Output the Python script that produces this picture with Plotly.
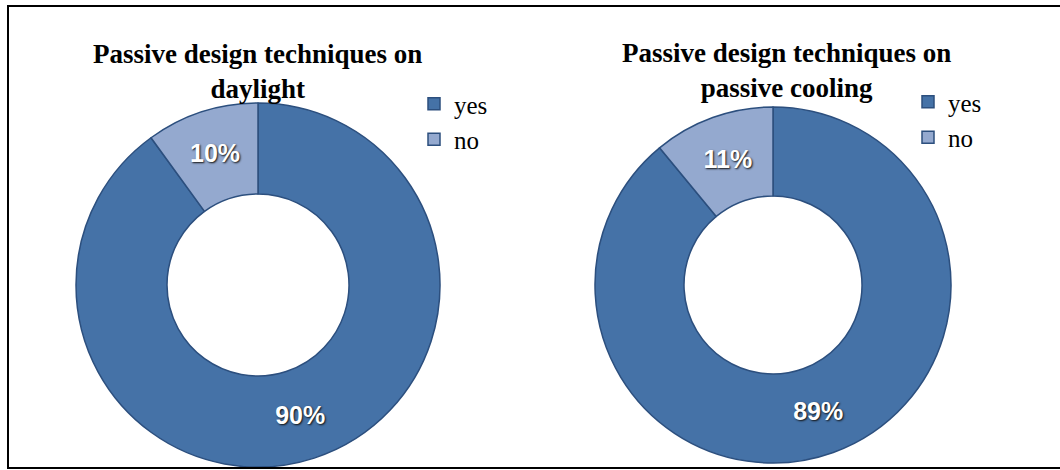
import plotly.graph_objects as go

labels = ["yes", "no"]
labels_cooling = ["yes\u200b", "no\u200b"]
daylight_values = [90, 10]
cooling_values = [89, 11]
titles = ["Passive design techniques on<br>daylight", "Passive design techniques on<br>passive cooling"]

W, H = 1060, 470
def px(x):
    return x / W
def py(y):
    return (H - y) / H

colors = ["#4572A7", "#94A9CF"]
line = dict(color="#2C4F7E", width=1.5)
tfont = dict(family="Liberation Sans", size=25, color="white", weight="bold",
             shadow="1px 1px 2px #111")

fig = go.Figure()
fig.add_trace(go.Pie(
    labels=labels, values=daylight_values, hole=0.5, sort=False,
    direction="clockwise", rotation=0,
    marker=dict(colors=colors, line=line),
    texttemplate="%{value}%", textposition="inside",
    insidetextorientation="horizontal", textfont=tfont,
    domain=dict(x=[px(76), px(440)], y=[py(467), py(103)]),
    legend="legend", hoverinfo="label+percent",
))
fig.add_trace(go.Pie(
    labels=labels_cooling, values=cooling_values, hole=0.5, sort=False,
    direction="clockwise", rotation=0,
    marker=dict(colors=colors, line=line),
    texttemplate="%{value}%", textposition="inside",
    insidetextorientation="horizontal", textfont=tfont,
    domain=dict(x=[px(595), px(951)], y=[py(463), py(107)]),
    legend="legend2", hoverinfo="label+percent",
))

lfont = dict(family="Liberation Serif", size=25, color="black")
fig.update_layout(
    width=W, height=H,
    margin=dict(l=0, r=0, t=0, b=0),
    paper_bgcolor="white", plot_bgcolor="white",
    showlegend=True,
    legend=dict(x=px(414), y=py(81), xanchor="left", yanchor="top", font=lfont,
                bgcolor="rgba(0,0,0,0)", itemwidth=30),
    legend2=dict(x=px(908), y=py(79), xanchor="left", yanchor="top", font=lfont,
                 bgcolor="rgba(0,0,0,0)", itemwidth=30),
    annotations=[
        dict(text="<b>" + titles[0] + "</b>", x=px(257), y=py(71), xref="paper", yref="paper",
             showarrow=False, xanchor="center", yanchor="middle", align="center",
             font=dict(family="Liberation Serif", size=27, color="black")),
        dict(text="<b>" + titles[1] + "</b>", x=px(786), y=py(70), xref="paper", yref="paper",
             showarrow=False, xanchor="center", yanchor="middle", align="center",
             font=dict(family="Liberation Serif", size=27, color="black")),
    ],
    shapes=[
        dict(type="rect", xref="paper", yref="paper",
             x0=px(8), x1=px(1070), y0=py(468), y1=py(6),
             line=dict(color="black", width=2), fillcolor="rgba(0,0,0,0)"),
    ],
)

fig.write_html("out.html")
